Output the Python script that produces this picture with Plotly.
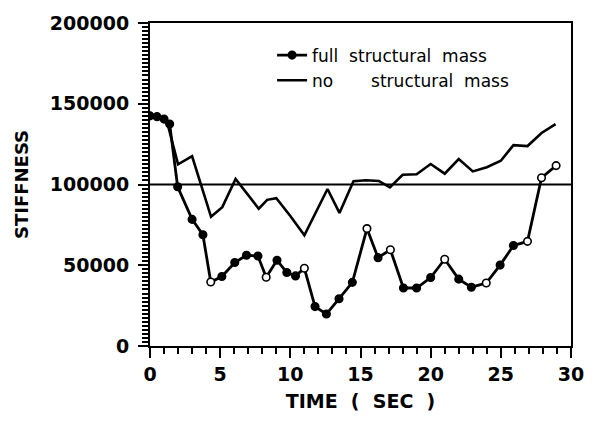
import plotly.graph_objects as go

# ---- data ----
time_full = [0, 0.5, 1.0, 1.4, 1.97, 3.0, 3.77, 4.33, 5.12, 6.04, 6.875, 7.69, 8.28, 9.05, 9.75,
             10.37, 11.0, 11.76, 12.57, 13.47, 14.42, 15.46, 16.25, 17.13, 18.06, 19.0, 20.0,
             21.0, 22.0, 22.9, 23.96, 24.95, 25.9, 26.9, 27.9, 28.94]
stiff_full = [142500, 142000, 140500, 137500, 98600, 78400, 68900, 39600, 43000, 51700, 56200,
              55700, 42600, 53100, 45500, 43400, 48100, 24400, 19800, 29300, 39400, 72700, 54700,
              59600, 35900, 35900, 42400, 53700, 41400, 36400, 39000, 50100, 62200, 64800,
              104200, 111700]
open_full = [7, 12, 16, 21, 23, 27, 30, 33, 34, 35]  # indices drawn as open circles

time_none = [0, 1.0, 1.3, 2.0, 3.0, 4.35, 5.15, 6.1, 7.75, 8.35, 9.0, 10.0, 11.0, 12.65, 13.5,
             14.5, 15.4, 16.3, 17.1, 18.0, 19.0, 20.0, 21.0, 22.0, 23.0, 24.0, 25.0, 25.9, 26.9,
             27.9, 28.9]
stiff_none = [143000, 141000, 136000, 112500, 117500, 80000, 86000, 103500, 85000, 90500, 91500,
              80500, 68500, 97200, 82400, 102000, 102600, 102200, 98200, 106000, 106300, 112700,
              106700, 115800, 108100, 110700, 114700, 124400, 123800, 131900, 137400]

REF_LINE = 100000
x_ticks = [0, 5, 10, 15, 20, 25, 30]
y_ticks = [0, 50000, 100000, 150000, 200000]

label_full = "full\u00a0\u00a0structural\u00a0\u00a0mass"
label_none = "no\u00a0\u00a0\u00a0\u00a0\u00a0\u00a0\u00a0structural\u00a0\u00a0mass"
x_title = "TIME\u00a0\u00a0(\u00a0\u00a0SEC\u00a0\u00a0)"
y_title = "STIFFNESS"

# ---- figure ----
marker_fill = ["white" if i in open_full else "black" for i in range(len(time_full))]

fig = go.Figure()
fig.add_trace(go.Scatter(
    x=time_full, y=stiff_full, mode="lines+markers", name=label_full,
    line=dict(color="black", width=2.8),
    marker=dict(symbol="circle", size=7.5, color=marker_fill,
                line=dict(color="black", width=1.6)),
))
fig.add_trace(go.Scatter(
    x=time_none, y=stiff_none, mode="lines", name=label_none,
    line=dict(color="black", width=2.6),
))
fig.add_hline(y=REF_LINE, line=dict(color="black", width=2))

tickfont = dict(family="DejaVu Sans", size=19, color="black", weight="bold")

fig.update_layout(
    width=596, height=421,
    margin=dict(l=150, r=14, t=20, b=70),
    paper_bgcolor="white", plot_bgcolor="white",
    showlegend=True,
    legend=dict(x=0.29, y=0.955, xanchor="left", yanchor="top",
                bgcolor="rgba(0,0,0,0)", borderwidth=0,
                font=dict(family="DejaVu Sans", size=17, color="black"),
                tracegroupgap=0, itemwidth=30),
)
fig.update_xaxes(
    range=[0, 30], tickvals=x_ticks, showgrid=False, zeroline=False,
    showline=True, linecolor="black", linewidth=2, mirror=True,
    ticks="outside", ticklen=10, tickwidth=2, tickcolor="black",
    minor=dict(dtick=1, ticks="outside", ticklen=6, tickwidth=1.5, tickcolor="black", showgrid=False),
    tickfont=tickfont,
    title=dict(text=x_title,
               font=dict(family="DejaVu Sans", size=19, color="black", weight="bold"),
               standoff=11),
)
fig.update_yaxes(
    range=[0, 200000], tickvals=y_ticks, showgrid=False, zeroline=False,
    showline=True, linecolor="black", linewidth=2, mirror=True,
    ticks="outside", ticklen=10, tickwidth=2, tickcolor="black",
    minor=dict(dtick=2500, ticks="outside", ticklen=6, tickwidth=1.5, tickcolor="black", showgrid=False),
    tickfont=tickfont, tickformat="d", ticklabelstandoff=5,
    title=dict(text=y_title,
               font=dict(family="DejaVu Sans", size=18, color="black", weight="bold"),
               standoff=17),
)

fig.write_html("out.html")
